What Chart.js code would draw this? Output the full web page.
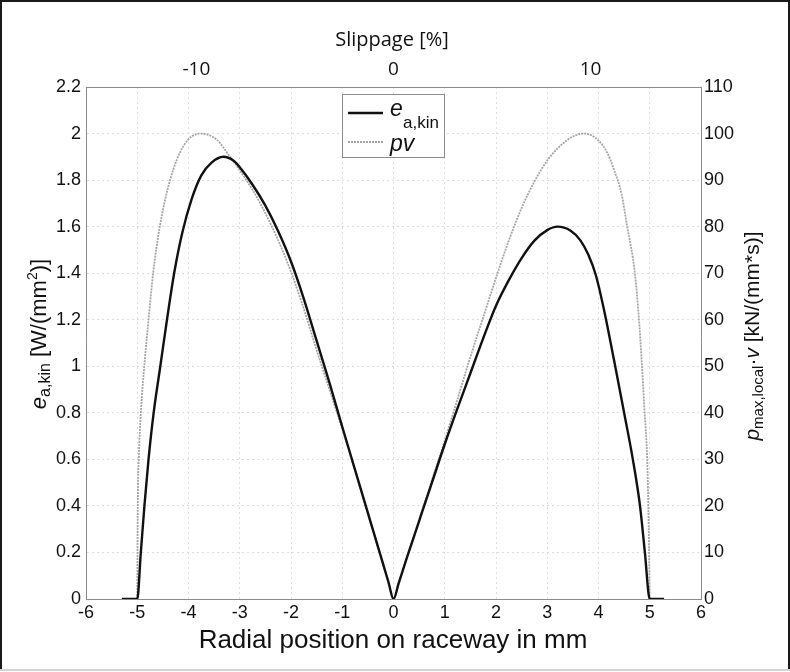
<!DOCTYPE html>
<html>
<head>
<meta charset="utf-8">
<script src="https://cdn.jsdelivr.net/npm/chart.js@4.4.0/dist/chart.umd.min.js"></script>
<style>
  html, body { margin: 0; padding: 0; background: #fff; }
  canvas { display: block; }
</style>
</head>
<body>
<canvas id="myChart" width="790" height="672"></canvas>
<script>
// radial position (mm) and e_a,kin values (W/mm^2)
const eX = [-5.3, -5.0, -4.93, -4.86, -4.78, -4.68, -4.55, -4.42, -4.28, -4.12,
            -3.94, -3.75, -3.55, -3.32, -3.12, -3.0, -2.75, -2.5, -2.25, -2.0,
            -1.75, -1.5, -1.25, -1.0, -0.75, -0.5, -0.25, -0.1, 0, 0.1,
            0.25, 0.5, 0.75, 1.0, 1.25, 1.5, 1.75, 2.0, 2.25, 2.5,
            2.75, 3.0, 3.2, 3.45, 3.65, 3.8, 3.95, 4.11, 4.3, 4.5,
            4.67, 4.81, 4.905, 5.0, 5.28];
const eVal = [0, 0, 0.2, 0.4, 0.6, 0.8, 1.0, 1.2, 1.4, 1.575,
              1.717, 1.82, 1.875, 1.9, 1.883, 1.855, 1.78, 1.69, 1.58, 1.45,
              1.29, 1.11, 0.93, 0.74, 0.555, 0.37, 0.185, 0.074, 0, 0.067,
              0.17, 0.335, 0.5, 0.665, 0.82, 0.97, 1.12, 1.26, 1.37, 1.465,
              1.54, 1.585, 1.6, 1.583, 1.54, 1.48, 1.39, 1.24, 1.03, 0.8,
              0.6, 0.4, 0.2, 0, 0];

// radial position (mm) and pv values (kN/(mm*s))
const pvX = [-5.0, -4.99, -4.97, -4.93, -4.85, -4.78, -4.69, -4.56, -4.36, -4.1,
             -3.77, -3.45, -3.19, -2.9, -2.6, -2.15, -1.79, -1.5, -1.25, -1.0,
             -0.75, -0.5, -0.25, -0.1, 0, 0.1, 0.25, 0.5, 0.75, 1.0,
             1.25, 1.5, 1.75, 2.0, 2.25, 2.5, 2.75, 3.0, 3.2, 3.39,
             3.55, 3.73, 4.0, 4.17, 4.3, 4.45, 4.56, 4.71, 4.79, 4.84,
             4.9, 4.95, 4.98, 5.0];
const pvVal = [0, 20, 30, 40, 51.6, 60, 70, 80, 90, 97.3,
               100, 98.7, 95, 90.5, 85, 74.5, 63.7, 53.5, 45, 36.5,
               27.5, 18.3, 9.1, 3.6, 0, 3.3, 8.5, 17, 25.5, 34,
               43, 52, 60.5, 69, 77, 84, 89.7, 94.2, 96.8, 98.6,
               99.6, 100, 98.5, 95.9, 92.3, 87, 80, 70, 60, 51.6,
               40, 30, 15, 0];

// slippage axis on top
const slipTicks = [-10, 0, 10];
const slipMin = -15.6, slipMax = 15.6;

const xMin = -6, xMax = 6;
const eMax = 2.2, pvMax = 110;

const gridCol = '#dedede';
const axisCol = '#8c8c8c';

function toPts(xs, ys) {
  return xs.map((x, i) => ({ x: x, y: ys[i] }));
}

// draws text made of parts (sub/superscripts), centred at x,y
function rich(ctx, parts, x, y, rot) {
  ctx.save();
  ctx.translate(x, y);
  ctx.rotate(rot || 0);
  ctx.textBaseline = 'middle';
  ctx.textAlign = 'left';
  let w = 0;
  parts.forEach(p => { ctx.font = p.f; w += ctx.measureText(p.t).width; });
  let cx = -w / 2;
  parts.forEach(p => {
    ctx.font = p.f;
    ctx.fillText(p.t, cx, p.dy || 0);
    cx += ctx.measureText(p.t).width;
  });
  ctx.restore();
}

const decor = {
  id: 'decor',
  beforeDraw(chart) {
    const ctx = chart.ctx;
    ctx.save();
    ctx.fillStyle = '#fff';
    ctx.fillRect(0, 0, chart.width, chart.height);
    ctx.restore();
  },
  afterDraw(chart) {
    const ctx = chart.ctx;
    ctx.save();
    ctx.fillStyle = '#111';

    // top title
    rich(ctx, [{ t: 'Slippage [%]', f: '20px "Open Sans"' }], 392, 40);
    // bottom title
    rich(ctx, [{ t: 'Radial position on raceway in mm', f: '26px "Liberation Sans"' }], 393, 641);

    // left title
    rich(ctx, [
      { t: 'e', f: 'italic 22px "Liberation Sans"' },
      { t: 'a,kin', f: '16px "Liberation Sans"', dy: 6 },
      { t: ' [W/(mm', f: '22px "Liberation Sans"' },
      { t: '2', f: '14px "Liberation Sans"', dy: -7 },
      { t: ')]', f: '22px "Liberation Sans"' }
    ], 40, 334, -Math.PI / 2);

    // right title
    rich(ctx, [
      { t: 'p', f: 'italic 21px "Liberation Sans"' },
      { t: 'max,local', f: '15px "Liberation Sans"', dy: 6 },
      { t: '·', f: '21px "Liberation Sans"' },
      { t: 'v', f: 'italic 21px "Liberation Sans"' },
      { t: ' [kN/(mm*s)]', f: '21px "Liberation Sans"' }
    ], 753, 336, -Math.PI / 2);

    // legend
    ctx.fillStyle = '#fff';
    ctx.fillRect(342, 94, 103, 64);
    ctx.strokeStyle = axisCol;
    ctx.lineWidth = 1;
    ctx.strokeRect(342.5, 94.5, 102, 63);

    ctx.strokeStyle = '#111';
    ctx.lineWidth = 2.5;
    ctx.beginPath();
    ctx.moveTo(348, 113);
    ctx.lineTo(383, 113);
    ctx.stroke();

    ctx.strokeStyle = '#a5a5a5';
    ctx.lineWidth = 1.8;
    ctx.setLineDash([2, 1]);
    ctx.beginPath();
    ctx.moveTo(348, 142);
    ctx.lineTo(383, 142);
    ctx.stroke();
    ctx.setLineDash([]);

    ctx.fillStyle = '#111';
    ctx.textBaseline = 'alphabetic';
    ctx.textAlign = 'left';
    ctx.font = 'italic 23px "Liberation Sans"';
    ctx.fillText('e', 390, 116);
    ctx.font = '17px "Liberation Sans"';
    ctx.fillText('a,kin', 403, 128);
    ctx.font = 'italic 23px "Liberation Sans"';
    ctx.fillText('pv', 390, 151);

    // outer frame
    ctx.strokeStyle = '#1a1a1a';
    ctx.lineWidth = 2;
    ctx.beginPath();
    ctx.moveTo(1, 669);
    ctx.lineTo(1, 1);
    ctx.lineTo(789, 1);
    ctx.lineTo(789, 669);
    ctx.stroke();
    ctx.strokeStyle = '#d4d4d4';
    ctx.beginPath();
    ctx.moveTo(0, 670);
    ctx.lineTo(790, 670);
    ctx.stroke();
    ctx.restore();
  }
};

const tickFont = { family: 'Liberation Sans', size: 18 };

new Chart(document.getElementById('myChart'), {
  type: 'line',
  data: {
    datasets: [
      {
        label: 'e_a,kin',
        data: toPts(eX, eVal),
        xAxisID: 'x',
        yAxisID: 'y',
        borderColor: '#111',
        borderWidth: 2.4,
        pointRadius: 0,
        fill: false,
        cubicInterpolationMode: 'monotone'
      },
      {
        label: 'pv',
        data: toPts(pvX, pvVal),
        xAxisID: 'x',
        yAxisID: 'y2',
        borderColor: '#a5a5a5',
        borderWidth: 1.8,
        borderDash: [2, 1],
        pointRadius: 0,
        fill: false,
        cubicInterpolationMode: 'monotone'
      }
    ]
  },
  options: {
    responsive: false,
    animation: false,
    layout: { padding: 0 },
    plugins: {
      legend: { display: false },
      tooltip: { enabled: false }
    },
    scales: {
      x: {
        type: 'linear',
        position: 'bottom',
        min: xMin,
        max: xMax,
        ticks: { stepSize: 1, font: tickFont, color: '#111', padding: 3, maxRotation: 0 },
        grid: { color: gridCol, drawTicks: false },
        border: { color: axisCol, dash: [2, 3] },
        afterFit: s => { s.height = 73; }
      },
      x2: {
        type: 'linear',
        position: 'top',
        min: slipMin,
        max: slipMax,
        afterBuildTicks: s => { s.ticks = slipTicks.map(v => ({ value: v })); },
        ticks: { font: { family: 'Open Sans', size: 19 }, color: '#111', padding: 6, maxRotation: 0 },
        grid: { drawOnChartArea: false, drawTicks: false },
        border: { color: axisCol },
        afterFit: s => { s.height = 87; }
      },
      y: {
        position: 'left',
        min: 0,
        max: eMax,
        ticks: {
          stepSize: 0.2,
          font: tickFont,
          color: '#111',
          padding: 5,
          callback: v => String(Math.round(v * 10) / 10)
        },
        grid: { color: gridCol, drawTicks: false },
        border: { color: axisCol, dash: [2, 3] },
        afterFit: s => { s.width = 86; }
      },
      y2: {
        position: 'right',
        min: 0,
        max: pvMax,
        ticks: { stepSize: 10, font: tickFont, color: '#111', padding: 3 },
        grid: { drawOnChartArea: false, drawTicks: false },
        border: { color: axisCol },
        afterFit: s => { s.width = 89; }
      }
    }
  },
  plugins: [decor]
});
</script>
</body>
</html>
